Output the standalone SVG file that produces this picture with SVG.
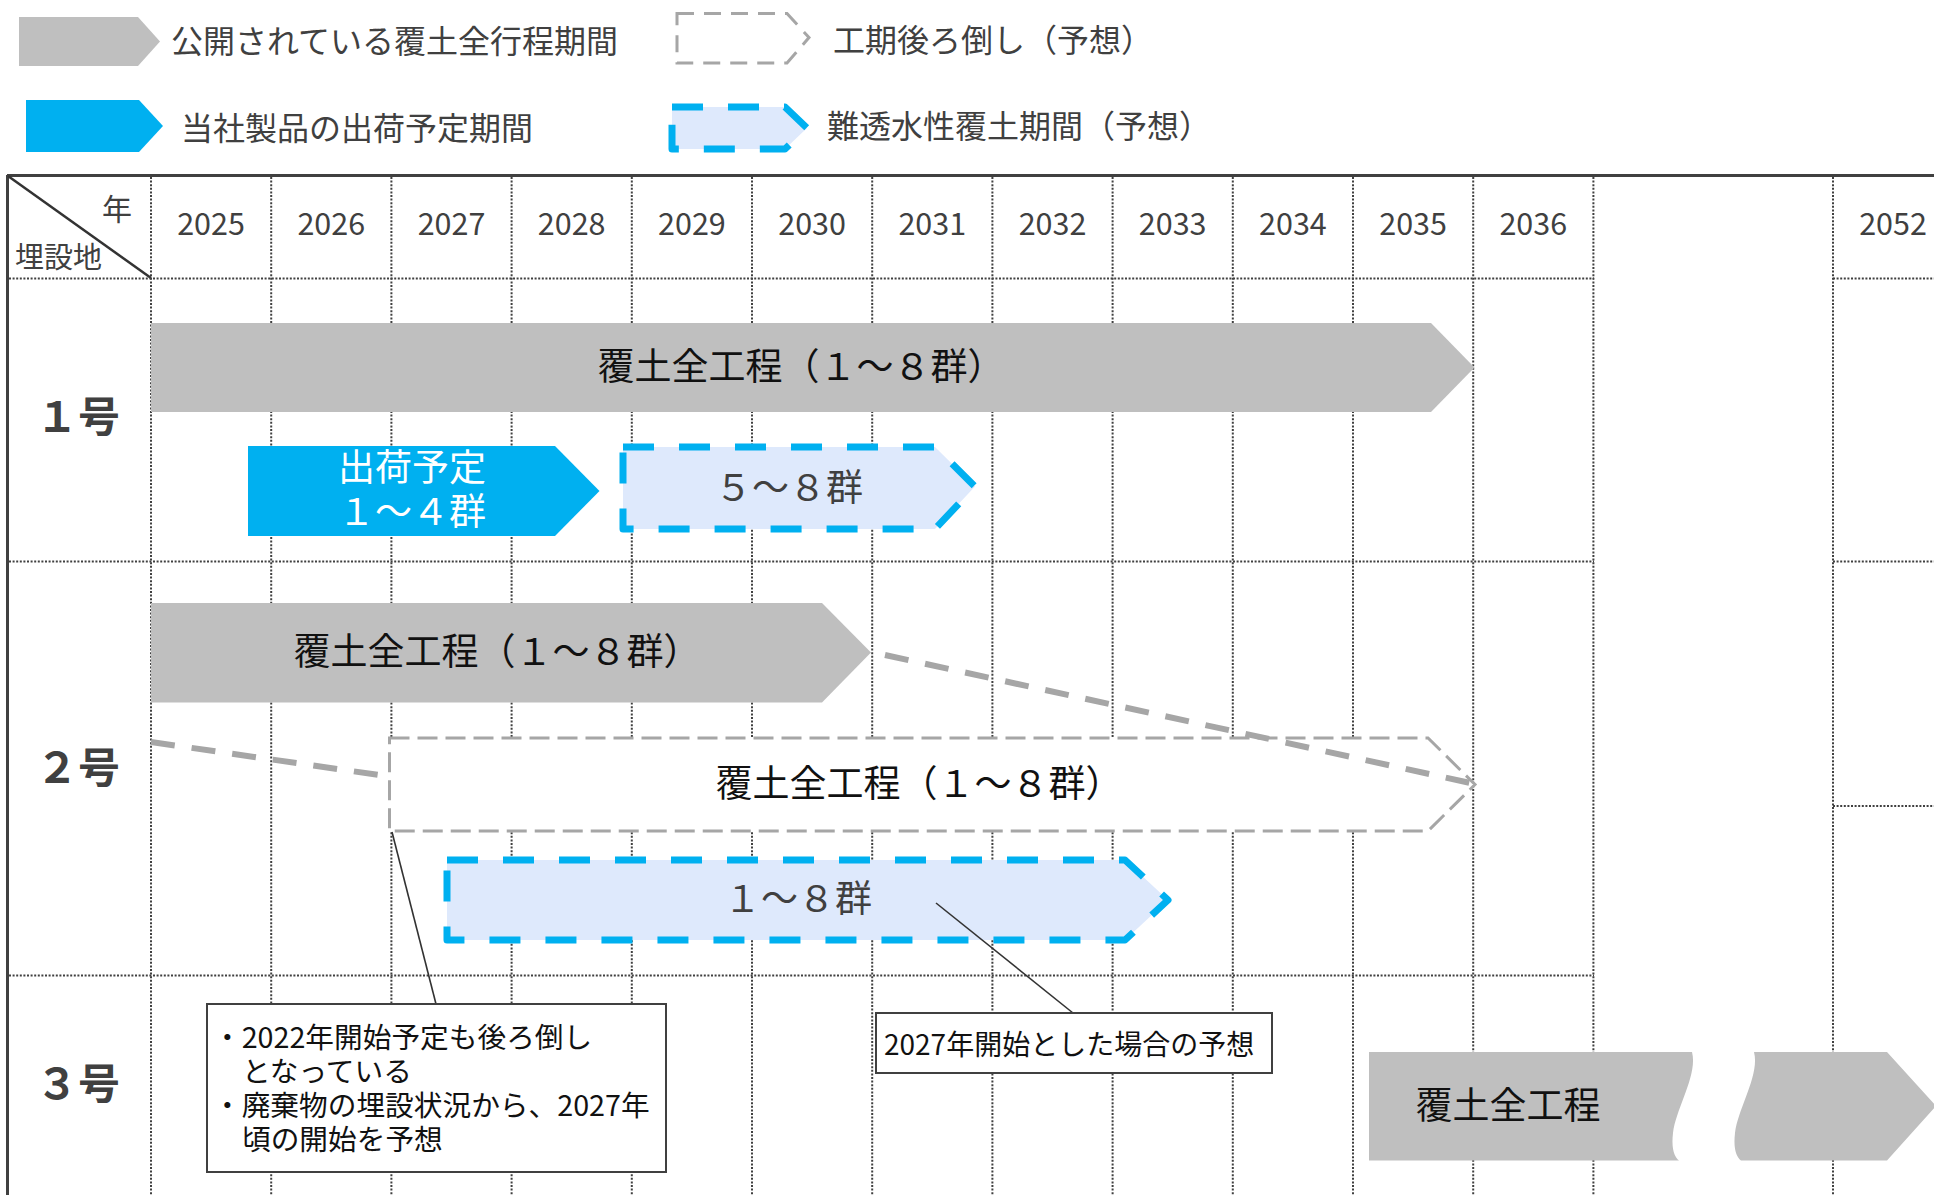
<svg xmlns="http://www.w3.org/2000/svg" width="1934" height="1195" viewBox="0 0 1934 1195">
<style>
text{font-family:"Noto Sans CJK JP","Noto Sans",sans-serif;}
.grid{stroke:#404040;stroke-width:2;stroke-dasharray:2 1.6;fill:none;}
.border{stroke:#404040;stroke-width:3;fill:none;}
.yr{font-size:30.5px;fill:#404040;text-anchor:middle;}
.leg{font-size:32px;fill:#404040;}
.gbar{fill:#bfbfbf;}
.bbar{fill:#00b0f0;}
.bdash{fill:#dee9fc;stroke:#00b0f0;stroke-width:7;stroke-dasharray:31 25;stroke-linejoin:round;}
.gdash{fill:#fff;stroke:#a6a6a6;stroke-width:3;stroke-dasharray:20 8;}
.thick{stroke:#a6a6a6;stroke-width:6;stroke-dasharray:24 17;fill:none;}
.lbl{font-size:37px;fill:#111;text-anchor:middle;}
.row{font-size:42px;font-weight:bold;fill:#404040;}
.call{fill:#fff;stroke:#404040;stroke-width:2;}
.cline{stroke:#333;stroke-width:1.6;fill:none;}
.ct{font-size:28.7px;fill:#111;}
</style>

<g id="legend">
  <g id="legend-public">
    <polygon class="gbar" points="19,17 138,17 160,41.5 138,66 19,66"/>
    <text class="leg" x="171" y="53">公開されている覆土全行程期間</text>
  </g>
  <g id="legend-shipping">
    <polygon class="bbar" points="26,100 139,100 163,126 139,152 26,152"/>
    <text class="leg" x="181" y="140">当社製品の出荷予定期間</text>
  </g>
  <g id="legend-delay">
    <polygon fill="#fff" stroke="#a6a6a6" stroke-width="3" stroke-dasharray="17 10" points="677,13.5 787,13.5 809,37.5 787,63 677,63"/>
    <text class="leg" x="833" y="52">工期後ろ倒し（予想）</text>
  </g>
  <g id="legend-impermeable">
    <polygon class="bdash" points="672,107 785,107 807,128 785,149 672,149"/>
    <text class="leg" x="827" y="138">難透水性覆土期間（予想）</text>
  </g>
</g>

<g id="grid">
  <line class="border" x1="7" y1="175.5" x2="1934" y2="175.5"/>
  <line class="border" x1="7.5" y1="175" x2="7.5" y2="1195"/>
  <line stroke="#333" stroke-width="2.5" x1="8" y1="176" x2="151" y2="278"/>
  <g id="vlines">
    <line class="grid" x1="151" y1="177" x2="151" y2="1195"/>
    <line class="grid" x1="271.2" y1="177" x2="271.2" y2="1195"/>
    <line class="grid" x1="391.4" y1="177" x2="391.4" y2="1195"/>
    <line class="grid" x1="511.6" y1="177" x2="511.6" y2="1195"/>
    <line class="grid" x1="631.8" y1="177" x2="631.8" y2="1195"/>
    <line class="grid" x1="752" y1="177" x2="752" y2="1195"/>
    <line class="grid" x1="872.2" y1="177" x2="872.2" y2="1195"/>
    <line class="grid" x1="992.4" y1="177" x2="992.4" y2="1195"/>
    <line class="grid" x1="1112.6" y1="177" x2="1112.6" y2="1195"/>
    <line class="grid" x1="1232.8" y1="177" x2="1232.8" y2="1195"/>
    <line class="grid" x1="1353" y1="177" x2="1353" y2="1195"/>
    <line class="grid" x1="1473.2" y1="177" x2="1473.2" y2="1195"/>
    <line class="grid" x1="1593.4" y1="177" x2="1593.4" y2="1195"/>
    <line class="grid" x1="1833" y1="177" x2="1833" y2="1195"/>
  </g>
  <g id="hlines">
    <line class="grid" x1="9" y1="278.5" x2="1594" y2="278.5"/>
    <line class="grid" x1="1833" y1="278.5" x2="1934" y2="278.5"/>
    <line class="grid" x1="9" y1="561.5" x2="1594" y2="561.5"/>
    <line class="grid" x1="1833" y1="561.5" x2="1934" y2="561.5"/>
    <line class="grid" x1="1833" y1="806" x2="1934" y2="806"/>
    <line class="grid" x1="9" y1="975.5" x2="1594" y2="975.5"/>
  </g>
</g>

<g id="header">
  <text x="117" y="220" font-size="30" fill="#404040" text-anchor="middle">年</text>
  <text x="15" y="268" font-size="29" fill="#404040">埋設地</text>
  <text class="yr" x="211" y="235">2025</text>
  <text class="yr" x="331.3" y="235">2026</text>
  <text class="yr" x="451.5" y="235">2027</text>
  <text class="yr" x="571.7" y="235">2028</text>
  <text class="yr" x="691.9" y="235">2029</text>
  <text class="yr" x="812.1" y="235">2030</text>
  <text class="yr" x="932.3" y="235">2031</text>
  <text class="yr" x="1052.5" y="235">2032</text>
  <text class="yr" x="1172.7" y="235">2033</text>
  <text class="yr" x="1292.9" y="235">2034</text>
  <text class="yr" x="1413.1" y="235">2035</text>
  <text class="yr" x="1533.3" y="235">2036</text>
  <text class="yr" x="1893" y="235">2052</text>
</g>

<g id="row-labels">
  <text class="row" x="36" y="432">１号</text>
  <text class="row" x="36" y="783">２号</text>
  <text class="row" x="36" y="1099">３号</text>
</g>

<g id="site1-public">
  <polygon class="gbar" points="151,323 1431,323 1474.5,367.5 1431,412 151,412"/>
  <text class="lbl" x="801" y="380">覆土全工程（１～８群）</text>
</g>
<g id="site1-shipping">
  <polygon class="bbar" points="248,446 555,446 599.5,491 555,536 248,536"/>
  <text class="lbl" x="412" y="481" style="fill:#fff">出荷予定</text>
  <text class="lbl" x="412" y="525" style="fill:#fff">１～４群</text>
</g>
<g id="site1-impermeable">
  <polygon class="bdash" points="623,447 935,447 975,486.5 935,529 623,529"/>
  <text class="lbl" x="789" y="501" style="fill:#404040">５～８群</text>
</g>

<g id="site2-public">
  <polygon class="gbar" points="151,603 822,603 871,652.5 822,702.5 151,702.5"/>
  <text class="lbl" x="497" y="665">覆土全工程（１～８群）</text>
</g>
<g id="site2-delay">
  <polygon class="gdash" points="389.5,738 1428,738 1475,784.5 1428,831 389.5,831"/>
  <text class="lbl" x="919" y="797">覆土全工程（１～８群）</text>
</g>
<g id="site2-impermeable">
  <polygon class="bdash" points="447,860 1125,860 1168,900 1125,940 447,940"/>
  <text class="lbl" x="798" y="912" style="fill:#404040">１～８群</text>
</g>

<g id="site3-public">
  <path class="gbar" d="M1369,1052 L1692,1052 C1698,1075 1676,1108 1673,1133 C1671,1150 1675,1157 1679,1160.5 L1369,1160.5 Z"/>
  <path class="gbar" d="M1754,1052 L1887,1052 L1936,1106 L1887,1160.5 L1741,1160.5 C1737,1157 1733,1150 1735,1133 C1738,1108 1760,1075 1754,1052 Z"/>
  <text class="lbl" x="1508" y="1119">覆土全工程</text>
</g>

<g id="connectors">
  <line class="thick" x1="885" y1="655" x2="1475" y2="784"/>
  <line class="thick" x1="151" y1="742" x2="386" y2="776"/>
  <line class="cline" x1="392" y1="832" x2="436" y2="1004"/>
  <line class="cline" x1="936" y1="903" x2="1073" y2="1013"/>
</g>

<g id="note-delay">
  <rect class="call" x="207" y="1004" width="459" height="168"/>
  <text class="ct" x="213" y="1048">・2022年開始予定も後ろ倒し</text>
  <text class="ct" x="242" y="1082">となっている</text>
  <text class="ct" x="213" y="1116">・廃棄物の埋設状況から、2027年</text>
  <text class="ct" x="242" y="1150">頃の開始を予想</text>
</g>
<g id="note-2027">
  <rect class="call" x="876" y="1013" width="396" height="60"/>
  <text class="ct" x="884" y="1055" style="font-size:28px">2027年開始とした場合の予想</text>
</g>
</svg>
